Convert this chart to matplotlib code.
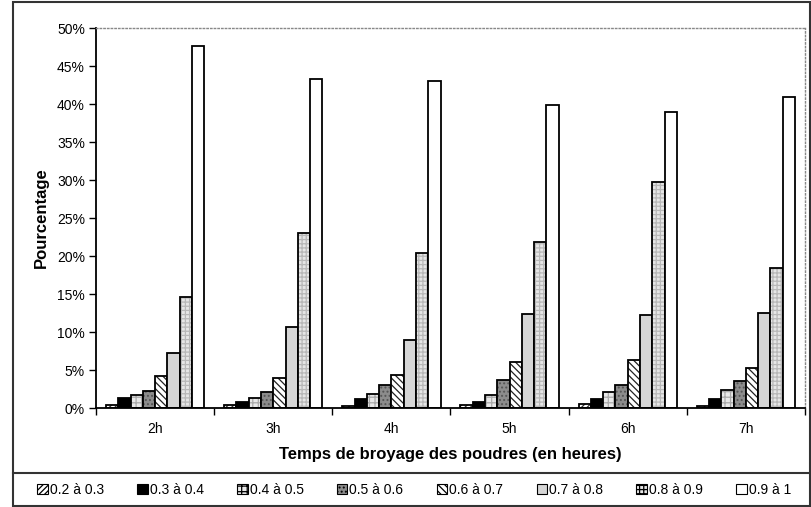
import numpy as np
import matplotlib
matplotlib.use("Agg")
import matplotlib.pyplot as plt
from matplotlib.patches import Rectangle, Patch
from matplotlib.lines import Line2D

plt.rcParams['font.family'] = ['Liberation Sans', 'DejaVu Sans']
plt.rcParams['hatch.linewidth'] = 0.9

# data (percent)
groups = ['2h', '3h', '4h', '5h', '6h', '7h']
classes = ['0.2 à 0.3', '0.3 à 0.4', '0.4 à 0.5', '0.5 à 0.6',
           '0.6 à 0.7', '0.7 à 0.8', '0.8 à 0.9', '0.9 à 1']
c_02_03 = [0.4, 0.35, 0.3, 0.4, 0.55, 0.3]
c_03_04 = [1.3, 0.75, 1.2, 0.75, 1.15, 1.15]
c_04_05 = [1.75, 1.3, 1.85, 1.75, 2.05, 2.4]
c_05_06 = [2.3, 2.1, 3.0, 3.7, 3.0, 3.55]
c_06_07 = [4.2, 4.0, 4.35, 6.0, 6.3, 5.2]
c_07_08 = [7.2, 10.7, 8.9, 12.4, 12.3, 12.5]
c_08_09 = [14.6, 23.0, 20.4, 21.8, 29.8, 18.4]
c_09_10 = [47.6, 43.3, 43.0, 39.9, 38.9, 40.9]
series = [c_02_03, c_03_04, c_04_05, c_05_06, c_06_07, c_07_08, c_08_09, c_09_10]

# fill colour, hatch, hatch colour for each class
styles = [
    ('white', '//////', '#333333'),
    ('black', None, 'black'),
    ('#e8e8e8', '+++', '#aaaaaa'),
    ('#8c8c8c', '....', '#555555'),
    ('white', '\\\\\\\\\\', '#222222'),
    ('#d6d6d6', None, '#d6d6d6'),
    ('#e6e6e6', '++++', '#b8b8b8'),
    ('white', None, 'white'),
]

fig = plt.figure(figsize=(8.12, 5.07), dpi=100)
ax = fig.add_axes([96 / 812, 99 / 507, 709 / 812, 380 / 507])

x = np.arange(len(groups))
w = 0.104
for i, vals in enumerate(series):
    fc, hatch, hc = styles[i]
    pos = x + (i - 3.5) * w
    ax.bar(pos, vals, w, color=fc, edgecolor=hc, hatch=hatch, linewidth=0)
    ax.bar(pos, vals, w, fill=False, edgecolor='black', linewidth=1.3)

ax.set_xlim(-0.5, 5.5)
ax.set_ylim(0, 50)
ax.set_yticks(np.arange(0, 51, 5))
ax.set_yticklabels([f'{v}%' for v in range(0, 51, 5)], fontsize=10)
ax.set_xticks(np.arange(-0.5, 6, 1))
ax.set_xticklabels([])
ax.set_xticks(x, minor=True)
ax.set_xticklabels(groups, minor=True, fontsize=10)
ax.tick_params(axis='x', which='minor', length=0, pad=10)
ax.tick_params(axis='x', which='major', length=5, width=1, direction='out')
ax.tick_params(axis='y', length=5, width=1, direction='out', pad=3)

for s in ['top', 'right']:
    ax.spines[s].set_color('#888888')
    ax.spines[s].set_linestyle(':')
    ax.spines[s].set_linewidth(1)
for s in ['left', 'bottom']:
    ax.spines[s].set_linewidth(1.3)

ax.set_ylabel('Pourcentage', fontsize=12, fontweight='bold', labelpad=6)
ax.set_xlabel('Temps de broyage des poudres (en heures)', fontsize=12,
              fontweight='bold', labelpad=8)

# outer frame and legend box separator
fig.patches.append(Rectangle((13 / 812, 0.002), 1 - 13 / 812 - 0.002, 0.994,
                             transform=fig.transFigure, fill=False,
                             edgecolor='#333333', linewidth=1.5))
fig.lines.append(Line2D([13 / 812, 1], [1 - 473 / 507, 1 - 473 / 507],
                        transform=fig.transFigure, color='#333333', linewidth=1.5))

handles = []
for i in range(len(classes)):
    fc, hatch, hc = styles[i]
    handles.append(Patch(facecolor=fc, edgecolor='black', hatch=hatch, linewidth=0.8))
fig.legend(handles, classes, loc='center', bbox_to_anchor=(0.51, 1 - 490 / 507),
           ncol=8, frameon=False, fontsize=10, handlelength=0.75, handleheight=0.75,
           handletextpad=0.15, columnspacing=2.4, borderpad=0)

fig.savefig('out.png', dpi=100)
